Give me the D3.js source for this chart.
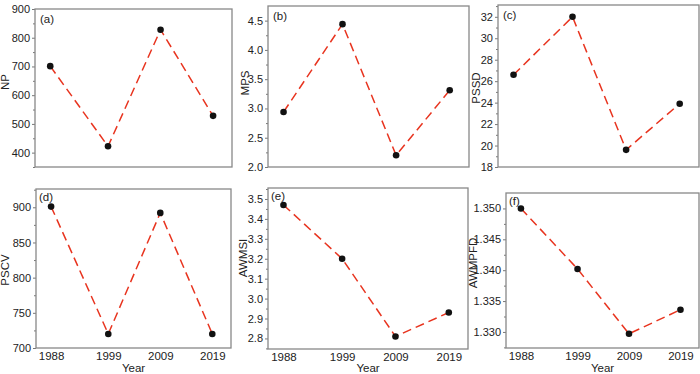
<!DOCTYPE html>
<html>
<head>
<meta charset="utf-8">
<script src="https://cdn.jsdelivr.net/npm/d3@7"></script>
<style>
  body { margin: 0; background: #fff; }
  svg { display: block; font-family: "Liberation Sans", Arial, sans-serif; }
  .tick text { font-size: 11px; fill: #222; }
</style>
</head>
<body>
<svg id="chart" width="700" height="374"></svg>
<script>
// ---- data ----
const years = [1988, 1999, 2009, 2019];
const NP     = [701, 422, 828, 528];
const MPS    = [2.94, 4.44, 2.20, 3.31];
const PSSD   = [26.6, 32.0, 19.6, 23.9];
const PSCV   = [901, 720, 892, 720];
const AWMSI  = [3.47, 3.20, 2.81, 2.93];
const AWMPFD = [1.3500, 1.3402, 1.3297, 1.3336];

const yearTicks = [1988, 1999, 2009, 2019];

// panel frames (layout), y domains and tick steps
const panels = [
  { tag: '(a)', name: 'NP',     values: NP,     box: [35, 9, 232, 167],    y: [350, 900],        step: 100,   fmt: d3.format('d'),   titleX: 5,   titleY: 82 },
  { tag: '(b)', name: 'MPS',    values: MPS,    box: [268, 6, 469, 167],   y: [2.0, 4.75],       step: 0.5,   fmt: d3.format('.1f'), titleX: 245, titleY: 83 },
  { tag: '(c)', name: 'PSSD',   values: PSSD,   box: [498, 5, 699, 167],   y: [18, 33.1],        step: 2,     fmt: d3.format('d'),   titleX: 476, titleY: 88 },
  { tag: '(d)', name: 'PSCV',   values: PSCV,   box: [36, 189, 231, 348],  y: [700, 926],        step: 50,    fmt: d3.format('d'),   titleX: 5,   titleY: 270 },
  { tag: '(e)', name: 'AWMSI',  values: AWMSI,  box: [268, 188, 468, 349], y: [2.747, 3.555],    step: 0.1,   fmt: d3.format('.1f'), titleX: 243, titleY: 258 },
  { tag: '(f)', name: 'AWMPFD', values: AWMPFD, box: [506, 193, 699, 348], y: [1.3274, 1.3525],  step: 0.005, fmt: d3.format('.3f'), titleX: 473, titleY: 263 },
];

const svg = d3.select('#chart');

panels.forEach((p, idx) => {
  const [x0, y0, x1, y1] = p.box;
  const bottomRow = idx >= 3;

  const x = d3.scaleLinear().domain([1985.1, 2022.6]).range([x0, x1]);
  const y = d3.scaleLinear().domain(p.y).range([y1, y0]);

  const g = svg.append('g');

  // major & minor y ticks
  const lo = Math.ceil(p.y[0] / p.step - 1e-6) * p.step;
  const major = d3.range(lo, p.y[1] + p.step * 0.01, p.step).map(v => +v.toFixed(4));
  const minor = d3.range(lo - p.step / 2, p.y[1], p.step)
    .map(v => +v.toFixed(5))
    .filter(v => v >= p.y[0] && v <= p.y[1]);

  g.append('g')
    .attr('transform', `translate(${x0},0)`)
    .call(d3.axisLeft(y).tickValues(minor).tickSize(2).tickFormat(''))
    .call(ax => ax.select('.domain').remove())
    .call(ax => ax.selectAll('.tick line').attr('stroke', '#777'));

  g.append('g')
    .attr('transform', `translate(${x0},0)`)
    .call(d3.axisLeft(y).tickValues(major).tickSize(3).tickPadding(2).tickFormat(p.fmt))
    .call(ax => ax.select('.domain').remove())
    .call(ax => ax.selectAll('.tick line').attr('stroke', '#777'));

  // x axis labels only on bottom row
  if (bottomRow) {
    g.append('g')
      .attr('transform', `translate(0,${y1})`)
      .call(d3.axisBottom(x).tickValues(yearTicks).tickSize(0).tickPadding(4).tickFormat(d3.format('d')))
      .call(ax => ax.select('.domain').remove())
      .call(ax => ax.selectAll('.tick text').style('font-size', '11.5px'));

    g.append('text')
      .attr('x', (x0 + x1) / 2)
      .attr('y', 372)
      .attr('text-anchor', 'middle')
      .attr('font-size', '11.5px')
      .attr('fill', '#222')
      .text('Year');
  }

  // frame
  g.append('rect')
    .attr('x', x0).attr('y', y0)
    .attr('width', x1 - x0).attr('height', y1 - y0)
    .attr('fill', 'none')
    .attr('stroke', '#888')
    .attr('stroke-width', 1.3);

  // y title
  g.append('text')
    .attr('transform', `translate(${p.titleX},${p.titleY}) rotate(-90)`)
    .attr('text-anchor', 'middle')
    .attr('dominant-baseline', 'central')
    .attr('font-size', '11.5px')
    .attr('fill', '#222')
    .text(p.name);

  // panel tag
  g.append('text')
    .attr('x', bottomRow ? x0 + 3 : x0 + 5)
    .attr('y', bottomRow ? y0 + 12 : y0 + 14)
    .attr('font-size', '11.5px')
    .attr('fill', '#222')
    .text(p.tag);

  const pts = years.map((yr, i) => ({ yr, v: p.values[i] }));

  const line = d3.line()
    .x(d => x(d.yr))
    .y(d => y(d.v));

  g.append('path')
    .datum(pts)
    .attr('fill', 'none')
    .attr('stroke', '#e8341f')
    .attr('stroke-width', 1.5)
    .attr('stroke-dasharray', '9 5')
    .attr('d', line);

  g.selectAll('.dot')
    .data(pts)
    .enter()
    .append('circle')
    .attr('class', 'dot')
    .attr('cx', d => x(d.yr))
    .attr('cy', d => y(d.v))
    .attr('r', 3.3)
    .attr('fill', '#111');
});
</script>
</body>
</html>
